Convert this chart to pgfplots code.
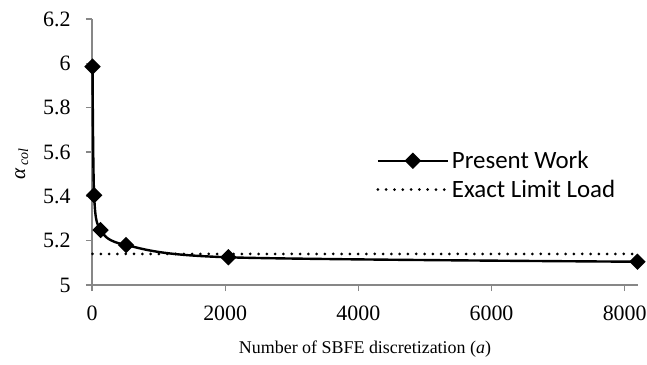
\documentclass[border=0pt]{standalone}
\usepackage{pgfplots}
\pgfplotsset{compat=1.18}
\usetikzlibrary{calc}
\usepackage{fontspec}
\setmainfont{Liberation Serif}
\newfontfamily\calibri{Carlito}
\definecolor{axgray}{HTML}{878787}
\begin{document}
\begin{tikzpicture}
\begin{axis}[
  name=ax,
  scale only axis, width=546bp, height=266bp,
  xmin=0, xmax=8200, ymin=5, ymax=6.2,
  axis x line*=bottom, axis y line*=left,
  axis line style={draw=axgray, line width=1.2bp},
  tick style={draw=axgray, line width=1.2bp},
  tick align=outside, major tick length=6bp,
  xtick={0,2000,4000,6000,8000},
  ytick={5,5.2,5.4,5.6,5.8,6,6.2},
  scaled ticks=false,
  /pgf/number format/1000 sep={},
  /pgf/number format/assume math mode=true,
  tick label style={font=\fontsize{22}{22}\selectfont},
  xticklabel style={yshift=-11bp},
  yticklabel style={xshift=-12bp},
  xlabel={Number of SBFE discretization (\textit{a})},
  xlabel style={font=\fontsize{18}{18}\selectfont, yshift=-14bp},
  ylabel={\textit{α}\raisebox{-0.3ex}{\fontsize{14}{14}\selectfont\,\textit{col}}},
  ylabel style={font=\fontsize{21}{21}\selectfont, yshift=8bp, xshift=-12bp},
  clip=false,
  legend cell align=left,
  legend style={draw=none, fill=none, at={(0.515,0.52)}, anchor=north west,
    font=\calibri\fontsize{25}{25}\selectfont, row sep=5bp,
    nodes={inner sep=2.5bp}},
  legend image code/.code={\draw[mark repeat=2, mark phase=2, #1] plot coordinates {(0bp,0bp) (35bp,0bp) (70bp,0bp)};},
]
\addplot[black, line width=2.4bp, smooth, tension=0.5,
  mark=square*, mark size=4.6bp, mark options={rotate=45, solid, fill=black}]
  coordinates {(8,5.985) (32,5.405) (128,5.248) (512,5.18) (2048,5.125) (8192,5.105)};
\addlegendentry{Present Work}
\addplot[black, line width=3bp, dash pattern=on 0bp off 8.3bp, line cap=round]
  coordinates {(8,5.14) (8192,5.14)};
\addlegendentry{Exact Limit Load}
\end{axis}
\pgfresetboundingbox
\path[use as bounding box] ($(ax.south west)+(-92bp,-80bp)$) rectangle ($(ax.north east)+(9bp,19bp)$);
\end{tikzpicture}
\end{document}
